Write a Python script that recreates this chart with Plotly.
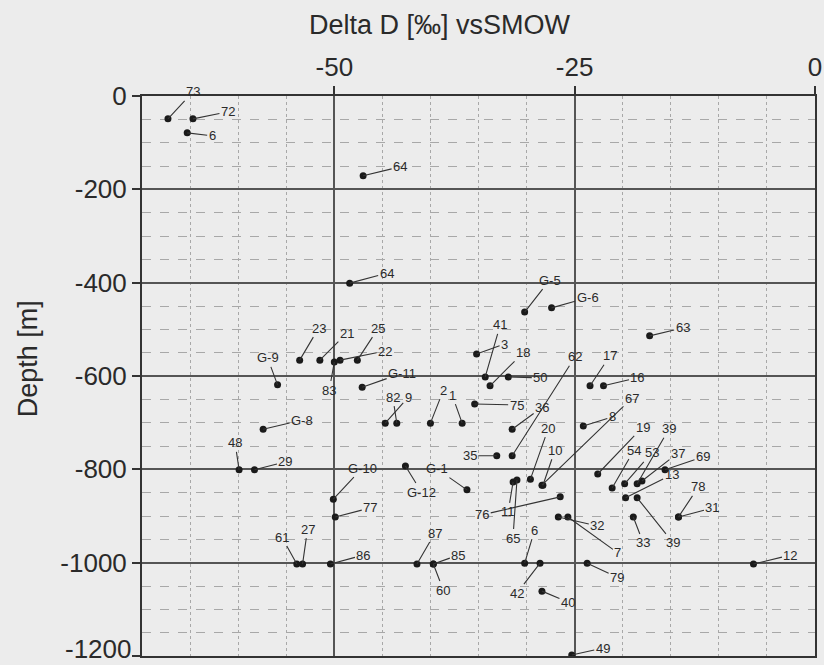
import plotly.graph_objects as go

# Sample identifiers, deuterium content (per mil vs SMOW) and sampling depth (m)
labels = [
    "73", "72", "6", "64", "64", "G-5", "G-6", "63",
    "23", "21", "83", "25", "22", "G-9", "G-11",
    "41", "3", "18", "50", "62", "17", "16",
    "82", "9", "2", "1", "75", "36", "67", "8", "G-8",
    "48", "29", "19", "39", "54", "53", "37", "69", "13",
    "20", "10", "35", "G-10", "G-1", "G-12", "77", "76", "11", "65",
    "32", "33", "39", "78", "31",
    "61", "27", "86", "87", "85", "60", "6", "42", "40", "7", "79", "12", "49",
]
delta_d = [
    -67.3, -64.7, -65.3, -47.0, -48.4, -30.2, -27.4, -17.2,
    -53.6, -51.5, -50.0, -47.6, -49.4, -55.9, -47.1,
    -34.3, -35.2, -33.8, -31.9, -31.5, -23.4, -22.0,
    -43.5, -44.7, -40.0, -36.7, -35.4, -31.5, -28.4, -24.1, -57.4,
    -59.9, -58.3, -22.6, -18.5, -21.1, -19.8, -18.0, -15.6, -19.7,
    -29.6, -28.3, -33.1, -50.1, -36.2, -42.6, -49.9, -26.5, -31.4, -31.0,
    -26.7, -18.9, -18.5, -14.2, -14.2,
    -53.9, -53.3, -50.4, -41.4, -39.7, -39.7, -30.2, -28.6, -28.4, -25.7, -23.7, -6.4, -25.3,
]
depth = [
    -49, -49, -79, -171, -401, -463, -454, -514,
    -566, -566, -570, -566, -566, -619, -624,
    -602, -553, -621, -602, -771, -621, -621,
    -701, -701, -701, -701, -660, -714, -834, -707, -714,
    -801, -801, -810, -831, -840, -831, -825, -801, -861,
    -821, -834, -771, -864, -844, -793, -902, -859, -827, -823,
    -902, -902, -861, -902, -902,
    -1003, -1003, -1003, -1003, -1003, -1003, -1001, -1001, -1061, -902, -1001, -1003, -1198,
]

# Pixel offsets of each label from its point (leader line runs between them)
label_offsets = [
    (25, -27), (35, -7), (25, 3), (37, -9), (37, -10), (25, -32), (36, -10), (33, -8),
    (19, -32), (27, -27), (-5, 28), (21, -32), (45, -9), (-10, -27), (40, -14),
    (15, -52), (28, -10), (33, -33), (32, 1), (63, -99), (20, -30), (34, -8),
    (-4, -26), (23, -26), (13, -33), (-10, -28), (42, 1), (30, -22), (90, -87), (29, -9), (39, -9),
    (-4, -27), (31, -8), (45, -47), (32, -55), (22, -38), (27, -31), (36, -28), (38, -13), (46, -23),
    (18, -51), (12, -35), (-27, 0), (29, -31), (-30, -21), (16, 26), (35, -9), (-78, 18), (-5, 30), (-4, 58),
    (39, 9), (10, 26), (36, 45), (20, -30), (34, -9),
    (-15, -27), (5, -35), (33, -9), (18, -31), (25, -9), (10, 26), (10, -33), (-23, 30), (26, 11), (50, 36), (30, 14), (37, -9), (31, -7),
]

x_ticks = [-50, -25, 0]
y_ticks = [0, -200, -400, -600, -800, -1000, -1200]

FONT = "Liberation Sans, Arial, sans-serif"
INK = "#2a2a2a"
BG = "#ececec"

fig = go.Figure()
fig.add_trace(go.Scatter(
    x=delta_d, y=depth, mode="markers",
    marker=dict(size=7, color="#1a1a1a"),
    hoverinfo="skip", showlegend=False,
))

annotations = []
for lab, xv, yv, (ox, oy) in zip(labels, delta_d, depth, label_offsets):
    annotations.append(dict(
        x=xv, y=yv, xref="x", yref="y", text=lab,
        showarrow=True, arrowhead=0, arrowwidth=1.1, arrowcolor="#333333",
        ax=ox, ay=oy, standoff=0,
        font=dict(family=FONT, size=13, color=INK),
    ))

# Axis titles
annotations.append(dict(
    x=0.443, y=1, xref="paper", yref="paper", yshift=71,
    text="Delta D [‰] vsSMOW", showarrow=False,
    font=dict(family=FONT, size=27, color=INK), yanchor="middle",
))
annotations.append(dict(
    x=0, y=0.53, xref="paper", yref="paper", xshift=-114,
    text="Depth [m]", showarrow=False, textangle=-90,
    font=dict(family=FONT, size=27, color=INK), xanchor="center",
))

# The lowest depth label sits at the bottom edge of the page; keep it inside
y_ticktext = [str(v) for v in y_ticks]
bottom_label = y_ticktext[-1]
y_ticktext[-1] = ""
annotations.append(dict(
    x=0, y=y_ticks[-1], xref="paper", yref="y", text=bottom_label,
    showarrow=False, xanchor="right", yanchor="bottom",
    xshift=-9, yshift=-9, borderpad=0,
    font=dict(family=FONT, size=26, color=INK),
))

fig.update_layout(
    width=824, height=665,
    margin=dict(l=142, r=9, t=96, b=9, autoexpand=False),
    paper_bgcolor=BG, plot_bgcolor=BG,
    annotations=annotations,
    showlegend=False,
)

fig.update_xaxes(
    range=[-70, 0], side="top", automargin=False,
    tickvals=x_ticks, ticktext=[str(v) for v in x_ticks],
    tickfont=dict(family=FONT, size=26, color=INK),
    ticks="outside", ticklen=8, tickcolor="#333", tickwidth=1.5,
    ticklabeloverflow="allow",
    showline=True, linecolor="#333", linewidth=2, mirror=True,
    showgrid=True, gridcolor="#555", gridwidth=1.5,
    zeroline=False,
    minor=dict(dtick=5, tick0=0, showgrid=True, gridcolor="#a8a8a8",
               griddash="dot", gridwidth=1),
)
fig.update_yaxes(
    range=[-1200, 0], automargin=False,
    tickvals=y_ticks, ticktext=y_ticktext,
    tickfont=dict(family=FONT, size=26, color=INK),
    ticks="outside", ticklen=8, tickcolor="#333", tickwidth=1.5,
    ticklabeloverflow="allow",
    showline=True, linecolor="#333", linewidth=2, mirror=True,
    showgrid=True, gridcolor="#555", gridwidth=1.5,
    zeroline=False,
    minor=dict(dtick=50, tick0=0, showgrid=True, gridcolor="#a8a8a8",
               griddash="dash", gridwidth=1),
)

fig.write_html("out.html")
